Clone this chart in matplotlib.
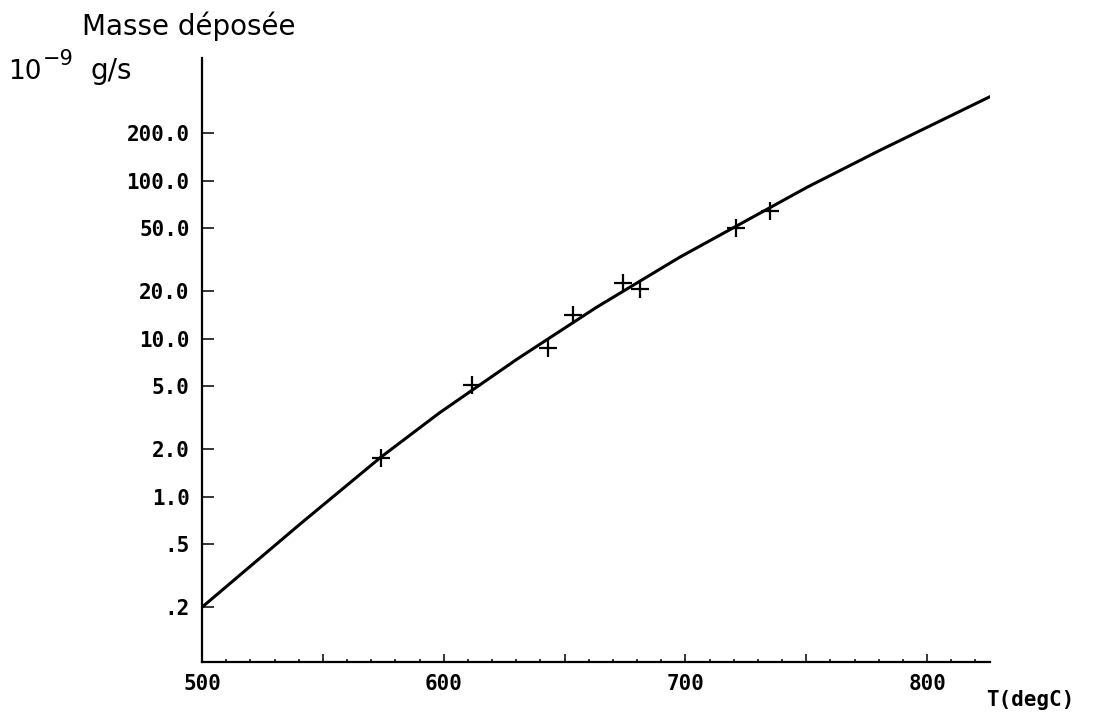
import numpy as np
import matplotlib
matplotlib.use("Agg")
import matplotlib.pyplot as plt
from matplotlib.ticker import FixedLocator, MultipleLocator, NullFormatter

# courbe ajustée
courbe_t = [500, 540.5, 574, 598.3, 630.2, 663.2, 697.5, 750.4, 780.2, 803.7, 825.6]
courbe_m = [0.2, 0.67, 1.78, 3.4, 7.4, 15.8, 32.7, 91, 155, 232, 338]

# points mesurés
mesure_t = [574, 611.6, 643, 653.3, 674, 681, 721, 735]
mesure_m = [1.77, 5.08, 8.7, 14.1, 22.5, 20.6, 50, 64]

y_ticks = [200, 100, 50, 20, 10, 5, 2, 1, 0.5, 0.2]
y_labels = ["200.0", "100.0", "50.0", "20.0", "10.0", "5.0", "2.0", "1.0", ".5", ".2"]
x_ticks = [500, 600, 700, 800]

mono = "DejaVu Sans Mono"

fig = plt.figure(figsize=(10.95, 7.2), dpi=100)
ax = fig.add_axes([0.1845, 0.0806, 0.7196, 0.8389])

ax.plot(courbe_t, courbe_m, color="black", linewidth=2.2)
ax.plot(mesure_t, mesure_m, linestyle="none", marker="+", color="black",
        markersize=13, markeredgewidth=1.6)

ax.set_yscale("log")
ax.set_xlim(500, 826)
ax.set_ylim(0.09, 598)

for side in ["top", "right"]:
    ax.spines[side].set_visible(False)
for side in ["left", "bottom"]:
    ax.spines[side].set_linewidth(1.6)

# axe y : graduations vers l'intérieur
ax.yaxis.set_major_locator(FixedLocator(y_ticks))
ax.yaxis.set_minor_locator(FixedLocator([]))
ax.yaxis.set_minor_formatter(NullFormatter())
ax.set_yticklabels(y_labels)
ax.tick_params(axis="y", direction="in", length=8.5, width=1.1, pad=9)

# axe x : grandes graduations tous les 50, petites tous les 10
major_x = np.arange(500, 826, 50)
ax.set_xticks(major_x)
ax.set_xticklabels([str(t) if t in x_ticks else "" for t in major_x])
ax.xaxis.set_minor_locator(MultipleLocator(10))
ax.tick_params(axis="x", which="major", direction="in", length=6, width=1.1, pad=9)
ax.tick_params(axis="x", which="minor", direction="in", length=2.5, width=1.1)

for lab in ax.get_xticklabels() + ax.get_yticklabels():
    lab.set_fontfamily(mono)
    lab.set_fontweight("bold")
    lab.set_fontsize(15)

fig.text(82 / 1095, 1 - 35 / 720, "Masse déposée", fontsize=20,
         family="DejaVu Sans", va="baseline", ha="left")
# unité : 10^-9 g/s
fig.text(8 / 1095, 1 - 79 / 720, "10", fontsize=19,
         family="DejaVu Sans", va="baseline", ha="left")
fig.text(43 / 1095, 1 - 65 / 720, "−9", fontsize=15,
         family="DejaVu Sans", va="baseline", ha="left")
fig.text(90 / 1095, 1 - 79 / 720, "g/s", fontsize=20,
         family="DejaVu Sans", va="baseline", ha="left")
fig.text(1030 / 1095, 1 - 706 / 720, "T(degC)", fontsize=15, family=mono,
         fontweight="bold", va="baseline", ha="center")

fig.savefig("out.png", dpi=100)
